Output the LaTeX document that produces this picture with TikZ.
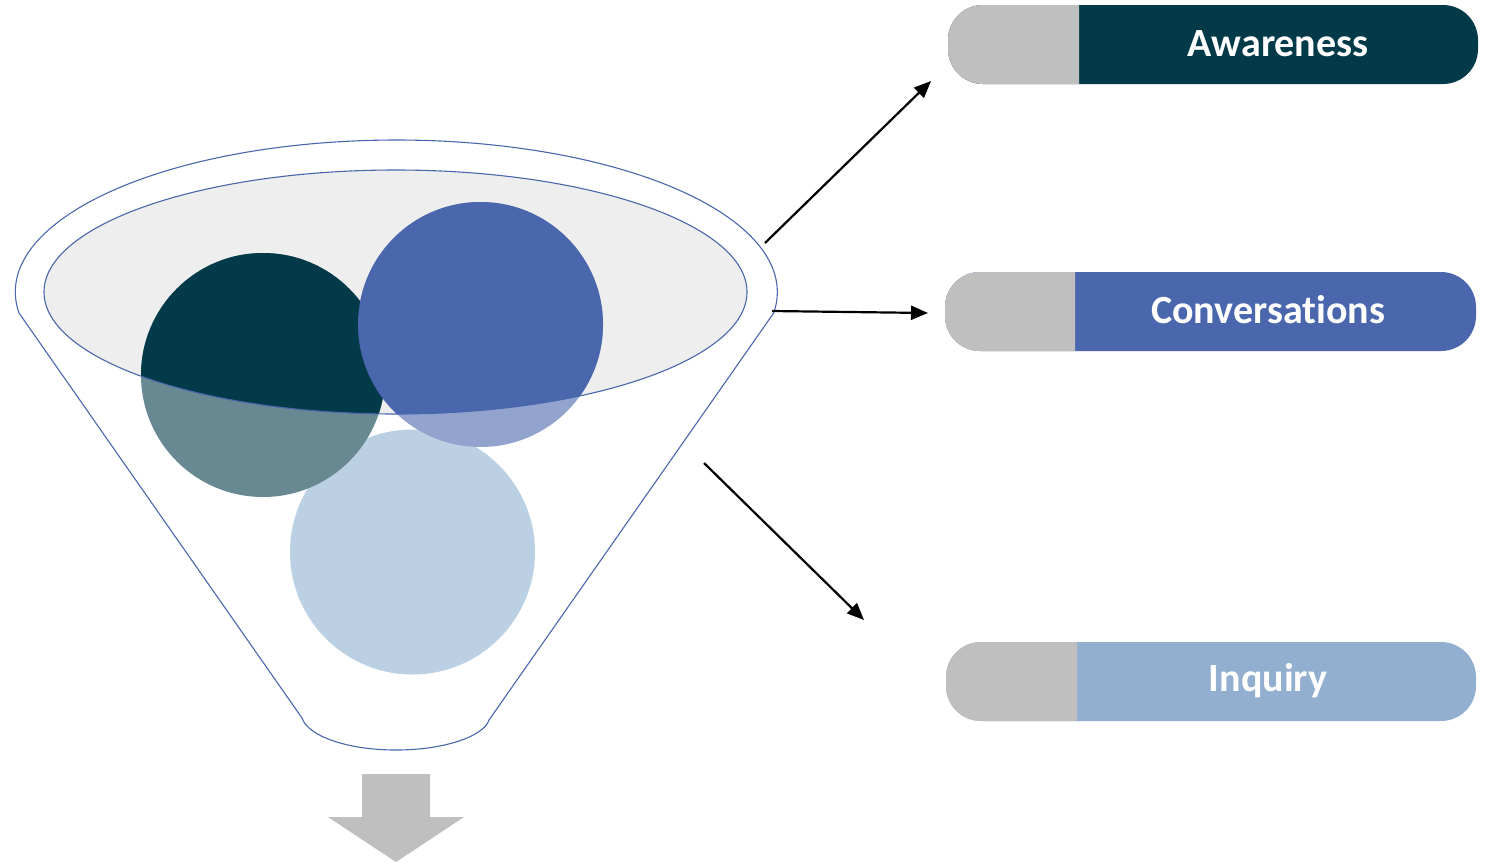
\documentclass[tikz,border=0pt]{standalone}
\usepackage{fontspec}
\setmainfont[Ligatures=NoCommon]{Carlito}
\usetikzlibrary{arrows.meta}
\definecolor{deepteal}{HTML}{033A4A}
\definecolor{midblue}{HTML}{4A66AC}
\definecolor{paleblue}{HTML}{93AFCF}
\definecolor{mistblue}{HTML}{BCD0E4}
\definecolor{pillgray}{HTML}{BFBFBF}
\definecolor{rimgray}{HTML}{EEEEEE}
\tikzset{
  rim/.style={draw=midblue, line width=1.1pt},
  pointer/.style={draw=black, line width=2.2pt, -{Triangle[length=17pt,width=14pt]}},
  pilltext/.style={text=white, font=\fontsize{40}{44}\selectfont\bfseries, inner sep=0pt},
}
\newcommand{\pillbar}[5]{%
  % #1 left x, #2 top y, #3 split x, #4 right x, #5 colour
  \fill[#5, rounded corners=35pt] (#1,#2) rectangle (#4,#2+79);
  \begin{scope}
    \clip (#1-2,#2-2) rectangle (#3,#2+82);
    \fill[pillgray, rounded corners=35pt] (#1,#2) rectangle (#4,#2+79);
  \end{scope}
}
\begin{document}
\begin{tikzpicture}[x=1pt,y=-1pt]
\useasboundingbox[fill=white] (0,0) rectangle (1488,863);

% funnel body
\draw[rim, fill=white] (19,313) arc[start angle=172.06, end angle=367.94, x radius=381, y radius=152]
  -- (489,720) .. controls (484,736) and (445,750) .. (396,750)
  .. controls (347,750) and (308,736) .. (302,718) -- cycle;

% rim of the funnel
\fill[rimgray] (395.5,292) ellipse[x radius=351.5, y radius=122];

% balls: lower parts show faded through the funnel wall
\fill[mistblue] (412.5,552) circle[radius=122.5];
\fill[deepteal!60!white] (263,375) circle[radius=122];
\fill[midblue!60!white] (480.5,324.5) circle[radius=122.5];
\begin{scope}
  \clip (395.5,292) ellipse[x radius=351.5, y radius=122];
  \fill[deepteal] (263,375) circle[radius=122];
  \fill[midblue] (480.5,324.5) circle[radius=122.5];
\end{scope}
\draw[rim] (395.5,292) ellipse[x radius=351.5, y radius=122];

% output arrow below the funnel
\fill[pillgray] (362,774) -- (430,774) -- (430,817) -- (464,817) -- (396,862)
  -- (328,817) -- (362,817) -- cycle;

% stage bars
\pillbar{948}{5}{1079}{1478}{deepteal}
\pillbar{945}{272}{1075}{1476}{midblue}
\pillbar{946}{642}{1077}{1476}{paleblue}
\node[pilltext] (awareness) at (1278,44) {Awareness};
\node[pilltext] (conversations) at (1268,310) {Conversations};
\node[pilltext] (inquiry) at (1268,681) {Inquiry};

% pointers from the funnel to the stages
\coordinate (f1) at (765,243);
\coordinate (t1) at (931,81);
\coordinate (f2) at (772,311);
\coordinate (t2) at (928,313);
\coordinate (f3) at (704,463);
\coordinate (t3) at (864,620);
\draw[pointer] (f1) -- (t1);
\draw[pointer] (f2) -- (t2);
\draw[pointer] (f3) -- (t3);
\end{tikzpicture}
\end{document}
